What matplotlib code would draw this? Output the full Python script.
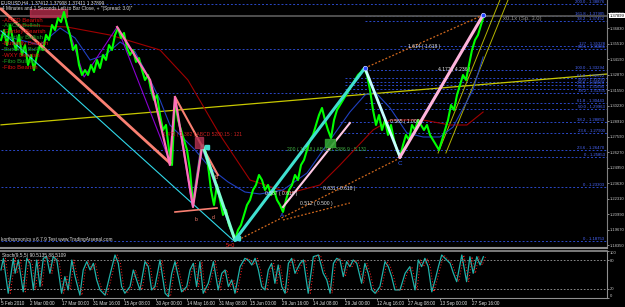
import numpy as np
import matplotlib.pyplot as plt
from matplotlib.patches import Rectangle
import matplotlib.transforms as mtransforms

plt.rcParams['font.family'] = ['Liberation Sans Narrow', 'Liberation Sans', 'DejaVu Sans']

# EURUSD H4 closes (one value every ~2 bars)
close = [1.3585, 1.3670, 1.3542, 1.3713, 1.3585, 1.3500, 1.3628, 1.3457, 1.3542, 1.3372,
         1.3457, 1.3329, 1.3457, 1.3542, 1.3500, 1.3628, 1.3585, 1.3713, 1.3670, 1.3772,
         1.3738, 1.3824, 1.3713, 1.3628, 1.3500, 1.3542, 1.3372, 1.3287, 1.3329, 1.3287,
         1.3372, 1.3312, 1.3415, 1.3346, 1.3457, 1.3415, 1.3542, 1.3500, 1.3628, 1.3687,
         1.3602, 1.3645, 1.3517, 1.3457, 1.3500, 1.3398, 1.3431, 1.3329, 1.3244, 1.3287,
         1.3159, 1.3074, 1.3116, 1.2946, 1.2818, 1.2861, 1.2648, 1.2520, 1.3074, 1.2903,
         1.2818, 1.2733, 1.2648, 1.2477, 1.2179, 1.2350, 1.2520, 1.2690, 1.2648, 1.2520,
         1.2307, 1.2179, 1.2350, 1.2222, 1.2094, 1.2137, 1.2009, 1.1949, 1.1881, 1.1966,
         1.2009, 1.2094, 1.2179, 1.2222, 1.2307, 1.2350, 1.2435, 1.2392, 1.2307, 1.2350,
         1.2264, 1.2307, 1.2222, 1.2179, 1.2120, 1.2222, 1.2307, 1.2350, 1.2435, 1.2392,
         1.2520, 1.2563, 1.2648, 1.2733, 1.2776, 1.2861, 1.2946, 1.3006, 1.2903, 1.2818,
         1.2750, 1.2903, 1.2989, 1.3031, 1.3074, 1.3116, 1.3159, 1.3202, 1.3244, 1.3287,
         1.3312, 1.3346, 1.3287, 1.3159, 1.2989, 1.2861, 1.2946, 1.2818, 1.2903, 1.2776,
         1.2861, 1.2733, 1.2648, 1.2588, 1.2690, 1.2776, 1.2733, 1.2861, 1.2818, 1.2903,
         1.2861, 1.2818, 1.2861, 1.2776, 1.2733, 1.2690, 1.2648, 1.2733, 1.2818, 1.2903,
         1.3031, 1.2989, 1.3116, 1.3202, 1.3287, 1.3244, 1.3372, 1.3500, 1.3585, 1.3628,
         1.3713, 1.3798]

# moving averages (sampled points)
ma_blue_x = [0, 6.3, 13, 19.7, 24.7, 29.7, 34.7, 39.7, 44.7, 49.7, 53, 56.3, 59.7, 64.7, 69.7,
             75.7, 81.3, 86.3, 94, 102, 109.7, 116.3, 121.3, 124.7, 129.7, 135.3, 140.7, 146.3,
             150.7, 157.3, 160.7]
ma_blue_y = [1.36276, 1.35850, 1.35424, 1.36872, 1.36020, 1.34146, 1.34572, 1.35680, 1.34828,
             1.32442, 1.30738, 1.28608, 1.27756, 1.26478, 1.24944, 1.23752, 1.22900, 1.22730,
             1.23070, 1.24518, 1.27330, 1.29716, 1.31164, 1.31420, 1.30056, 1.27926, 1.27586,
             1.27586, 1.28438, 1.31590, 1.34402]
ma_red_x = [6.3, 22, 36.3, 53, 62.3, 73, 83, 96.3, 106.3, 113, 124, 129.7, 140.7, 149.7, 155.3, 160.7]
ma_red_y = [1.37128, 1.36958, 1.36276, 1.35000, 1.32442, 1.27756, 1.23922, 1.22814, 1.23496,
            1.25200, 1.28182, 1.29034, 1.29034, 1.28608, 1.28608, 1.29716]

# harmonic pattern lines
salmon_x, salmon_y = [0, 56.3], [1.38491, 1.25371]
salmon2_x, salmon2_y = [58, 72.3], [1.31000, 1.24348]
flat_x, flat_y = [58, 72], [1.21196, 1.21537]
pink_x = [38.7, 49.7, 56.3, 58, 64, 67]
pink_y = [1.36958, 1.32442, 1.25200, 1.30994, 1.21622, 1.26734]
aqua_x, aqua_y = [67.3, 78], [1.26819, 1.18810]
cyan_x, cyan_y = [0, 77.3], [1.36625, 1.18810]
ab_x, ab_y = [78, 121.3], [1.18810, 1.33464]
bc_x, bc_y = [121.3, 133], [1.33464, 1.25882]
cd_x, cd_y = [133, 160.7], [1.25882, 1.37980]
lpink_x, lpink_y = [94, 116.3], [1.21622, 1.28778]
zig_x = [20.7, 27.7, 38.7, 56.7, 58, 63.7, 66.7, 77.7]
zig_y = [1.38236, 1.32698, 1.36958, 1.25200, 1.30738, 1.21792, 1.26904, 1.18810]
orange_lines = [([79, 133], [1.18810, 1.25797]),
                ([94, 116.3], [1.20514, 1.21962]),
                ([121.3, 160.7], [1.33464, 1.37980])]
yellow_x, yellow_y = [0, 202], [1.2862, 1.3295]
chan1_x, chan1_y = [145.7, 166.3], [1.26222, 1.39258]
chan2_x, chan2_y = [148.3, 169], [1.26222, 1.39258]

# fibonacci levels: price, label, first bar
fib_price = [1.38876, 1.37905, 1.37452, 1.35328, 1.35081, 1.33294, 1.32622, 1.32290, 1.32023,
             1.31695, 1.31355, 1.30443, 1.29963, 1.28853, 1.27900, 1.26470, 1.25853, 1.23303,
             1.18753]
fib_name = ['200.0', '161.8', '38.2', '127', '88.6', '100.0', '61.8', '50.0', '23.6', '78.6',
            '38.2', '61.8', '50.0', '38.2', '23.6', '23.6', '0', '0', '0']
fib_start = [0, 121.3, 121.3, 133, 0, 121.3, 114.7, 114.7, 114.7, 114.7, 0, 121.3, 121.3,
             113, 113, 0, 121.3, 0, 0]

price_ticks = [1.18350, 1.19670, 1.20990, 1.22310, 1.23630, 1.24950, 1.26270, 1.27590,
               1.28910, 1.30230, 1.31550, 1.32870, 1.34190, 1.35510, 1.36830, 1.38150]
bid = 1.37899

time_ticks = [0, 9.8, 20.2, 30.8, 41, 51.6, 62.1, 72.7, 83, 93.6, 104.1, 114.7, 125.2, 135.8,
              146.3, 156.9]
time_labels = ['5 Feb 2010', '2 Mar 00:00', '17 Mar 00:00', '31 Mar 16:00', '15 Apr 08:00',
               '30 Apr 00:00', '14 May 16:00', '31 May 08:00', '15 Jun 00:00', '29 Jun 16:00',
               '14 Jul 08:00', '29 Jul 00:00', '12 Aug 16:00', '27 Aug 08:00', '13 Sep 00:00',
               '27 Sep 16:00']

# stochastic %K (turning points)
stoch_x = [0, 0.8, 2.4, 4.1, 4.7, 5.8, 7.4, 8.6, 9.7, 10.8, 11.9, 13.0, 14.1, 15.2, 16.3, 17.4,
           18.6, 20.2, 21.3, 22.4, 23.6, 24.7, 26.3, 27.4, 28.6, 29.7, 30.8, 31.9, 33.0, 34.7,
           36.3, 38.0, 39.1, 40.2, 41.3, 43.0, 44.1, 45.2, 46.3, 48.0, 49.1, 50.2, 51.3, 53.0,
           54.7, 55.8, 56.9, 58.0, 59.1, 60.2, 61.9, 63.0, 64.1, 65.2, 66.3, 67.4, 69.1, 70.8,
           72.4, 73.6, 74.7, 75.8, 76.9, 78.0, 79.7, 81.3, 82.4, 83.6, 84.7, 85.8, 86.9, 88.0,
           89.1, 90.2, 91.3, 92.4, 93.6, 94.7, 95.8, 96.9, 98.0, 99.7, 100.8, 102.4, 104.1,
           105.8, 107.4, 108.6, 109.7, 110.8, 111.9, 113.0, 114.1, 115.2, 116.3, 117.4, 118.6,
           120.2, 121.3, 122.4, 123.6, 124.7, 126.3, 128.0, 129.1, 130.2, 131.3, 133.0, 134.7,
           136.3, 138.0, 139.1, 140.2, 141.3, 142.4, 143.6, 144.7, 145.8, 146.9, 148.6, 149.7,
           150.8, 151.9, 153.6, 155.2, 156.3, 157.4, 158.6, 159.7, 160.8]
stoch_k = [59, 83.5, 10, 83.5, 52, 80, 13, 83.5, 73, 17, 80, 24, 83.5, 87, 52, 87,
           80, 10, 45, 17, 80, 45, 6, 59, 76.5, 59, 73, 38, 17, 6,
           48, 90.5, 73, 24, 10, 24, 59, 38, 17, 76.5, 66, 17, 24, 80,
           10, 3, 52, 76.5, 45, 13, 24, 59, 73, 24, 76.5, 10, 31, 76.5,
           17, 52, 59, 24, 38, 10, 66, 83.5, 80, 69.5, 83.5, 59, 24, 17,
           59, 73, 31, 69.5, 24, 10, 73, 83.5, 52, 73, 80, 10, 87,
           90.5, 52, 38, 10, 73, 83.5, 80, 45, 76.5, 66, 80, 73,
           31, 73, 52, 17, 10, 24, 76.5, 66, 45, 17, 17, 52,
           66, 17, 80, 66, 83.5, 66, 13, 38, 66, 90.5, 80, 73,
           52, 34.4, 90.5, 34.4, 87, 52, 87, 69.5, 87]

BG = 'black'
AXFS = 3.0  # right-hand scale labels
fig = plt.figure(figsize=(6.25, 3.07), dpi=100, facecolor=BG)
ax = fig.add_axes([0, 1 - 248 / 307, 607 / 625, 248 / 307], facecolor=BG)
ax2 = fig.add_axes([0, 1 - 298 / 307, 607 / 625, 47.5 / 307], facecolor=BG)

XL = (-1 / 3, 202)
ax.set_xlim(*XL)
ax.set_ylim(1.18128, 1.39258)

# fib levels
for p, name, x0 in zip(fib_price, fib_name, fib_start):
    ax.plot([x0, XL[1]], [p, p], color='#2a48c8', lw=0.7, ls=(0, (2, 2)), zorder=1)
    ax.text(201.2, p, f'{name} - {p:.5f}', color='#4a68ff', fontsize=3.1,
            ha='right', va='bottom', zorder=6)
ax.axhline(bid, color='#555555', lw=1.3, zorder=1)

ax.plot(yellow_x, yellow_y, color='#c8c800', lw=0.9, zorder=2)
ax.plot(chan1_x, chan1_y, color='#b4b400', lw=0.7, zorder=2)
ax.plot(chan2_x, chan2_y, color='#b4b400', lw=0.7, zorder=2)
ax.plot(ma_red_x, ma_red_y, color='#a00000', lw=0.8, zorder=2)
ax.plot(ma_blue_x, ma_blue_y, color='#2040c0', lw=0.8, zorder=2)
ax.plot(zig_x, zig_y, color='#8a00d0', lw=0.8, zorder=2)

ax.plot(np.arange(len(close)), close, color='#00ff00', lw=1.5, zorder=3)

for xs, ys in orange_lines:
    ax.plot(xs, ys, color='#d2691e', lw=0.9, ls=(0, (1.5, 1.5)), zorder=4)
ax.plot(cyan_x, cyan_y, color='#30d8e8', lw=0.8, zorder=4)
ax.plot(salmon_x, salmon_y, color='#fa8072', lw=2, zorder=4)
ax.plot(salmon2_x, salmon2_y, color='#fa8072', lw=1.5, zorder=4)
ax.plot(flat_x, flat_y, color='#fa8072', lw=1.2, zorder=4)
ax.plot(pink_x, pink_y, color='#ff70b8', lw=1.6, zorder=4)
ax.plot(aqua_x, aqua_y, color='#7fffd4', lw=2.2, zorder=4)
ax.plot(ab_x, ab_y, color='#40e0d0', lw=2.2, zorder=4)
ax.plot(bc_x, bc_y, color='#c8ffff', lw=2, zorder=4)
ax.plot(cd_x, cd_y, color='#ffb4dc', lw=2.2, zorder=4)
ax.plot(lpink_x, lpink_y, color='#ffc8e4', lw=1.5, zorder=4)

# pattern points and boxes
ax.plot([121.3, 160.7], [1.33464, 1.37980], 'o', ms=3.2, mfc='#2848ff', mec='#c0c8ff',
        mew=0.5, zorder=5)
ax.plot([68.7, 79], [1.26734, 1.1898], 's', ms=2.3, color='#40e0d0', zorder=5)
ax.add_patch(Rectangle((9.7, 1.37810), 12.3, 0.00681, color='#c03050', alpha=0.75, zorder=2))
ax.add_patch(Rectangle((64.7, 1.26648), 2.6, 0.00938, color='#b03050', alpha=0.8, zorder=5))
ax.add_patch(Rectangle((108, 1.26734), 3.3, 0.00682, color='#30a030', alpha=0.9, zorder=5))

txt = dict(fontsize=3.6, zorder=7)
ax.text(133, 1.2550, 'C', color='#3060ff', ha='center', va='top', fontsize=4.5, zorder=7)
ax.text(93.7, 1.2110, 'A', color='#3060ff', ha='center', va='top', fontsize=4.5, zorder=7)
ax.text(65, 1.2077, 'b', color='#fa8072', ha='center', va='top', **txt)
ax.text(70.7, 1.2094, 'd', color='#fa8072', ha='center', va='top', **txt)
ax.text(71.7, 1.2435, 'B', color='#fa8072', ha='center', va='top', **txt)
ax.text(76.5, 1.1830, '5=0', color='#ff2020', ha='center', va='center', fontsize=4, zorder=7)
ax.text(88, 1.22814, '0.587 ( 0.618 )', color='#e0e0e0', va='center', **txt)
ax.text(99.7, 1.21877, '0.512 ( 0.500 )', color='#e0e0e0', va='center', **txt)
ax.text(107.3, 1.23240, '0.631 ( 0.618 )', color='#e0e0e0', va='center', **txt)
ax.text(129.7, 1.28864, '0.565 ( 1.000 )', color='#e0e0e0', va='center', **txt)
ax.text(135.7, 1.35254, '1.614 ( 1.618 )', color='#e0e0e0', va='center', **txt)
ax.text(145.7, 1.33379, '4.177 ( 4.236 )', color='#e0e0e0', va='center', **txt)
ax.text(54, 1.27756, '1.472 ( 1.382 ) ABCD 5280.15 : 121', color='#c82020', va='center', **txt)
ax.text(95.3, 1.26478, '200 ( 1.618 ) AB=CD 2986.9 : 5.131', color='#40b040', va='center', **txt)
ax.text(167.3, 1.37724, 'x0.1x (Sp. 3.0)', color='#909090', va='center', fontsize=4.2, zorder=7)
ax.text(0, 1.18810, 'kortharmonics v.6.7.9 Test www.TradingArsenal.com', color='#e0e0e0',
        va='center', fontsize=3.4, zorder=7)

# header and legend
fig.text(1 / 625, 1 - 3 / 307, 'EURUSD,H4  1.37412 1.37908 1.37411 1.37899', color='#e0e0e0',
         fontsize=3.4, va='center')
fig.text(2 / 625, 1 - 8.5 / 307,
         '4 Minutes and 1 Seconds Left to Bar Close, + "(Spread: 3.0)"', color='#e0e0e0',
         fontsize=3.4, va='center')
legend_names = ['-ABCD Bearish', '-ABCD Bullish', '-Gartley Bearish', '-Gartley Bullish',
                '-Butterfly Bearish', '-Butterfly Bullish', '-WXY Bearish', '-Fibo Bullish',
                '-Fibo Bearish']
legend_cols = ['#e01010', '#20a020', '#e01010', '#20a020', '#e01010', '#20a020', '#e01010',
               '#20a020', '#e01010']
for k, (n, c) in enumerate(zip(legend_names, legend_cols)):
    fig.text(2 / 625, 1 - (20 + k * 5.9) / 307, n, color=c, fontsize=4.3, va='center')

# price axis
ax.yaxis.tick_right()
ax.set_yticks(price_ticks)
ax.set_yticklabels([f'{v:.5f}' for v in price_ticks])
ax.tick_params(axis='y', colors='#c8c8c8', labelsize=AXFS, length=1.5, width=0.5, pad=0.5)
ax.set_xticks([])
for s in ['left', 'top']:
    ax.spines[s].set_visible(False)
ax.spines['right'].set_color('#808080')
ax.spines['bottom'].set_color('#909090')
ax.spines['bottom'].set_linewidth(1.5)
tr = mtransforms.blended_transform_factory(ax.transAxes, ax.transData)
ax.text(1.004, bid, f'{bid:.5f}', transform=tr, color='black', fontsize=AXFS, va='center',
        ha='left', bbox=dict(facecolor='white', edgecolor='none', pad=0.4), zorder=8)

# stochastic panel
ax2.set_xlim(*XL)
ax2.set_ylim(0, 100)
ax2.axhline(80, color='#a0a0a0', lw=0.6, ls=(0, (2, 2)))
ax2.axhline(20, color='#a0a0a0', lw=0.6, ls=(0, (2, 2)))
sx = np.array(stoch_x)
ax2.plot(sx, stoch_k, color='#20b2aa', lw=0.9)
ax2.plot(sx + 0.7, stoch_k, color='#ff2020', lw=0.7, ls=(0, (1, 2)))
ax2.text(0.3, 94, 'Stoch(9,5,5) 90.5135 88.5109', color='#e0e0e0', fontsize=3.4, va='top')
ax2.yaxis.tick_right()
ax2.set_yticks([100, 80, 20, 0])
ax2.set_yticklabels(['100', '80', '20', '0'])
ax2.tick_params(axis='y', colors='#c8c8c8', labelsize=AXFS, length=1.5, width=0.5, pad=0.5)
labs = ax2.get_yticklabels()
labs[0].set_va('top')
labs[3].set_va('bottom')
ax2.set_xticks(time_ticks)
ax2.set_xticklabels(time_labels, ha='left')
ax2.tick_params(axis='x', colors='#e0e0e0', labelsize=3.3, length=1.5, width=0.5, pad=0.8)
ax2.spines['left'].set_visible(False)
for s in ['top', 'right', 'bottom']:
    ax2.spines[s].set_color('#909090')
ax2.spines['top'].set_linewidth(1.2)

fig.savefig('out.png', dpi=100, facecolor=BG)
